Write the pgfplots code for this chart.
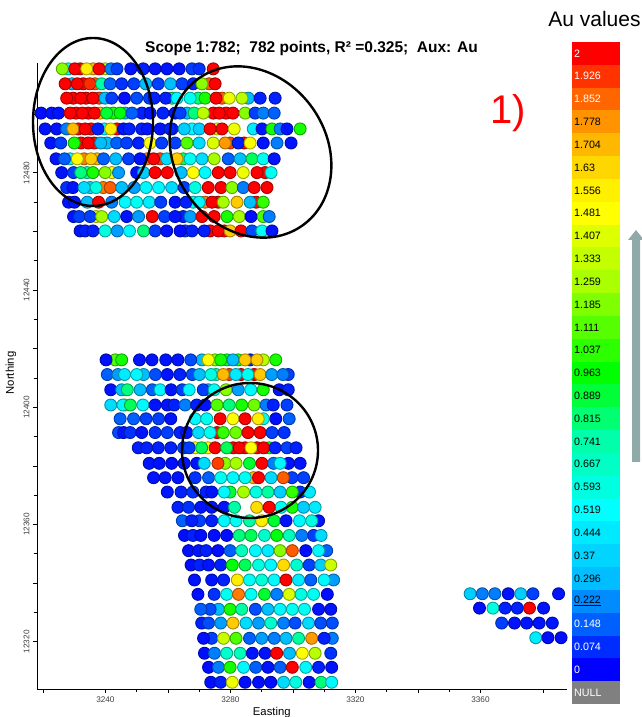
\documentclass[border=0pt]{standalone}
\usepackage{fontspec}
\setmainfont{Liberation Sans}
\usepackage{pgfplots}
\pgfplotsset{compat=1.18}
\definecolor{arrowgray}{RGB}{143,170,168}
\pgfplotsset{colormap={au}{rgb255(0)=(0,0,255) rgb255(222)=(0,140,255) rgb255(296)=(0,190,255) rgb255(519)=(0,255,255) rgb255(741)=(0,255,170) rgb255(963)=(0,255,0) rgb255(1259)=(170,255,0) rgb255(1500)=(255,255,0) rgb255(1704)=(255,184,0) rgb255(2000)=(255,0,0)}}
\newcommand\cell[7]{%
  \addplot[draw=none,fill={rgb,255:red,#3;green,#4;blue,#5}] coordinates {(0,#1)(1,#1)(1,#2)(0,#2)} -- cycle;
  \node[anchor=west,inner sep=0pt,text=#6,font=\fontsize{10.7}{12}\selectfont] at (axis cs:0.04,#1.5) {#7};
}
\begin{document}
\begin{tikzpicture}
\path[use as bounding box] (0pt,0pt) rectangle (641pt,717pt);
\begin{axis}[
  at={(37pt,28pt)},anchor=south west,
  width=530pt,height=626pt,scale only axis,
  xmin=3218.1,xmax=3387.7,ymin=12303.9,ymax=12517.5,
  axis lines=left,
  x axis line style={-},y axis line style={-},
  axis line style={line width=1pt,black},
  clip=false,
  scaled x ticks=false,scaled y ticks=false,
  xtick={3240,3280,3320,3360},
  ytick={12320,12360,12400,12440,12480},
  minor tick num=3,
  extra x ticks={3220,3260,3300,3340,3380},
  extra y ticks={12340,12380,12420,12460,12500},
  extra x tick labels={},extra y tick labels={},
  extra tick style={major tick length=4pt},
  major tick length=4pt,minor tick length=2.5pt,
  tick style={black,line width=0.8pt},
  tick align=outside,
  xticklabel style={font=\fontsize{8.2}{10}\selectfont,text=black!75,/pgf/number format/assume math mode=true,/pgf/number format/fixed,/pgf/number format/1000 sep={}},
  yticklabel style={font=\fontsize{8.2}{10}\selectfont,text=black!75,rotate=90,anchor=south,/pgf/number format/assume math mode=true,/pgf/number format/fixed,/pgf/number format/1000 sep={}},
  xlabel={Easting},ylabel={Northing},
  xlabel style={font=\fontsize{11.3}{13}\selectfont,at={(axis description cs:0.443,-0.037)},anchor=center},
  ylabel style={font=\fontsize{11.3}{13}\selectfont,at={(axis description cs:-0.049,0.505)},anchor=center},
  colormap name=au,point meta min=0,point meta max=2,
]
\addplot[scatter,only marks,mark=*,mark size=6pt,line width=0.9pt,
  scatter/use mapped color={draw=mapped color!65!black,fill=mapped color},
  point meta=explicit]
table[row sep=\\,header=false,x index=0,y index=1,meta index=2] {
3228.1 12515.5 .55\\3231.9 12515.5 2\\3236.1 12515.5 1.7\\3239.9 12515.5 1.3\\
3226.2 12515.5 1.2\\3230.2 12515.5 2\\3234.0 12515.5 1.55\\3238.0 12515.5 2\\3241.8 12515.5 .2\\3243.7 12515.5 .1\\3248.1 12515.5 .03\\3252.1 12515.5 .05\\3255.9 12515.5 .03\\3259.7 12515.5 .03\\3263.6 12515.5 .03\\3267.7 12515.5 .1\\3270.0 12515.5 .08\\3274.5 12515.5 2\\
3229.3 12510.4 .3\\3232.9 12510.4 2\\3236.7 12510.4 1.85\\3273.2 12510.4 1.85\\
3227.1 12510.4 2\\3231.0 12510.4 2\\3235.0 12510.4 1.93\\3238.8 12510.4 .75\\3241.5 12510.4 .15\\3245.2 12510.4 .08\\3249.1 12510.4 .1\\3252.9 12510.4 .3\\3256.9 12510.4 .1\\3260.8 12510.4 .3\\3264.5 12510.4 .1\\3268.1 12510.4 .05\\3270.9 12510.4 1.2\\3275.1 12510.4 2\\
3229.7 12505.5 2\\3233.8 12505.5 2\\3238.0 12505.5 1.9\\3261.3 12505.5 .9\\3269.7 12505.5 .8\\3277.3 12505.5 1.85\\3285.7 12505.5 .3\\
3227.6 12505.5 2\\3232.1 12505.5 2\\3236.0 12505.5 2\\3239.9 12505.5 .3\\3242.0 12505.5 .1\\3246.1 12505.5 .02\\3250.0 12505.5 .12\\3254.1 12505.5 .1\\3255.6 12505.5 .05\\3259.3 12505.5 .05\\3262.9 12505.5 .5\\3267.1 12505.5 .55\\3271.9 12505.5 1.0\\3275.4 12505.5 2\\3279.6 12505.5 1.45\\3283.7 12505.5 1.3\\3289.5 12505.5 .05\\3294.3 12505.5 .05\\
3230.6 12500.4 2\\3234.5 12500.4 2\\3238.3 12500.4 1.7\\3242.5 12500.4 1.0\\3246.3 12500.4 .3\\3251.7 12500.4 .05\\3266.1 12500.4 .3\\3274.5 12500.4 2\\3278.6 12500.4 2\\
3219.4 12500.4 .02\\3222.8 12500.4 .03\\3225.0 12500.4 .03\\3228.7 12500.4 2\\3232.6 12500.4 2\\3236.5 12500.4 2\\3240.4 12500.4 .9\\3244.7 12500.4 .95\\3248.5 12500.4 .15\\3254.3 12500.4 .03\\3258.4 12500.4 .05\\3262.3 12500.4 .03\\3263.9 12500.4 .1\\3268.4 12500.4 .8\\3271.3 12500.4 1.3\\3276.4 12500.4 2\\3280.8 12500.4 2\\3284.7 12500.4 1.2\\3287.9 12500.4 .1\\3290.5 12500.4 .2\\3294.0 12500.4 .15\\
3231.3 12495.0 2\\3235.4 12495.0 2\\3239.6 12495.0 .5\\3243.7 12495.0 2\\3261.3 12495.0 .05\\3267.7 12495.0 .5\\3275.7 12495.0 1.4\\
3220.7 12495.0 .03\\3224.4 12495.0 .03\\3227.6 12495.0 .2\\3229.6 12495.0 1.7\\3233.5 12495.0 2\\3237.6 12495.0 .05\\3241.7 12495.0 1.55\\3245.8 12495.0 .03\\3247.6 12495.0 .05\\3251.6 12495.0 .05\\3253.4 12495.0 .03\\3257.5 12495.0 .03\\3260.7 12495.0 .05\\3265.2 12495.0 .35\\3270.0 12495.0 .35\\3273.5 12495.0 2\\3277.3 12495.0 2\\3281.2 12495.0 1.45\\3287.3 12495.0 .45\\3290.1 12495.0 .03\\3293.3 12495.0 1.0\\3295.9 12495.0 .2\\3298.1 12495.0 .03\\3302.3 12495.0 1.0\\
3232.2 12490.2 2\\3236.4 12490.2 2\\3240.5 12490.2 .3\\3279.9 12490.2 1.9\\3284.4 12490.2 2\\
3222.5 12490.2 .03\\3225.7 12490.2 .1\\3230.0 12490.2 1.0\\3234.5 12490.2 2\\3238.5 12490.2 .3\\3243.6 12490.2 .15\\3246.8 12490.2 .1\\3250.6 12490.2 .05\\3254.3 12490.2 1.5\\3258.0 12490.2 .1\\3262.3 12490.2 .1\\3266.1 12490.2 1.1\\3270.0 12490.2 .4\\3274.5 12490.2 1.4\\3278.3 12490.2 1.75\\3282.5 12490.2 .05\\3286.3 12490.2 1.5\\3290.5 12490.2 .03\\3294.9 12490.2 .2\\3299.4 12490.2 .03\\
3228.7 12484.8 .5\\3233.2 12484.8 1.8\\3237.3 12484.8 1.7\\3253.3 12484.8 1.8\\3257.5 12484.8 1.9\\3264.9 12484.8 .85\\
3224.2 12484.8 .03\\3226.9 12484.8 .15\\3231.0 12484.8 1.5\\3235.4 12484.8 1.65\\3239.4 12484.8 .15\\3243.3 12484.8 .3\\3247.4 12484.8 .1\\3251.1 12484.8 .03\\3255.4 12484.8 2\\3259.6 12484.8 .4\\3262.9 12484.8 1.65\\3267.1 12484.8 .55\\3270.9 12484.8 .4\\3274.8 12484.8 1.25\\3279.3 12484.8 .15\\3283.1 12484.8 .3\\3286.9 12484.8 .85\\3290.5 12484.8 .55\\3294.0 12484.8 .03\\
3234.1 12480.1 .7\\3242.1 12480.1 1.5\\3291.1 12480.1 2\\
3226.0 12480.1 .03\\3229.8 12480.1 .1\\3232.1 12480.1 .8\\3236.0 12480.1 1.0\\3239.9 12480.1 1.2\\3244.2 12480.1 .25\\3250.0 12480.1 .03\\3252.2 12480.1 .35\\3255.9 12480.1 2\\3259.8 12480.1 2\\3264.2 12480.1 .3\\3268.1 12480.1 1.5\\3271.9 12480.1 .5\\3276.1 12480.1 2\\3279.9 12480.1 2\\3284.1 12480.1 1.45\\3288.5 12480.1 2\\3293.0 12480.1 .55\\
3235.1 12475.0 .4\\3239.3 12475.0 1.8\\
3227.6 12475.0 .08\\3229.6 12475.0 .03\\3233.2 12475.0 .4\\3237.0 12475.0 .6\\3241.5 12475.0 1.85\\3245.2 12475.0 .3\\3249.2 12475.0 .25\\3253.0 12475.0 .5\\3257.0 12475.0 .5\\3261.2 12475.0 .4\\3265.2 12475.0 .1\\3268.7 12475.0 .6\\3272.9 12475.0 2\\3277.0 12475.0 2\\3280.5 12475.0 1.2\\3284.1 12475.0 .2\\3287.6 12475.0 2\\3291.7 12475.0 2\\
3268.1 12470.0 .6\\3271.9 12470.0 1.8\\3276.1 12470.0 2\\3288.2 12470.0 2\\
3228.2 12470.0 .03\\3230.1 12470.0 .03\\3234.2 12470.0 .3\\3237.8 12470.0 2\\3242.0 12470.0 .2\\3246.3 12470.0 .5\\3250.0 12470.0 .55\\3254.0 12470.0 .45\\3257.7 12470.0 .1\\3262.3 12470.0 .03\\3265.8 12470.0 .05\\3270.0 12470.0 .5\\3274.1 12470.0 2\\3277.7 12470.0 1.25\\3282.1 12470.0 1.65\\3286.3 12470.0 .3\\3290.5 12470.0 1.05\\
3237.0 12465.1 1.4\\3264.9 12465.1 .05\\
3229.8 12465.1 .03\\3231.6 12465.1 .1\\3235.1 12465.1 .1\\3238.8 12465.1 1.25\\3242.8 12465.1 .4\\3246.8 12465.1 .03\\3250.6 12465.1 .25\\3255.0 12465.1 2\\3258.9 12465.1 .1\\3262.3 12465.1 .03\\3267.1 12465.1 .25\\3270.9 12465.1 2\\3274.8 12465.1 2\\3278.9 12465.1 1.0\\3282.8 12465.1 1.25\\3286.6 12465.1 .02\\3290.5 12465.1 1.1\\3292.4 12465.1 .2\\
3265.5 12460.2 .1\\3273.5 12460.2 2\\3278.0 12460.2 2\\
3231.9 12460.2 .03\\3233.5 12460.2 .05\\3236.0 12460.2 .05\\3239.9 12460.2 .6\\3243.8 12460.2 .25\\3247.7 12460.2 .5\\3252.2 12460.2 .8\\3255.9 12460.2 .1\\3259.6 12460.2 .03\\3263.9 12460.2 .02\\3267.7 12460.2 .05\\3271.6 12460.2 .05\\3276.1 12460.2 2\\3279.9 12460.2 1.65\\3283.4 12460.2 2\\3286.9 12460.2 .12\\3290.1 12460.2 .55\\3293.3 12460.2 .03\\
3243.1 12416.2 1.1\\3270.9 12416.2 .3\\3275.1 12416.2 1.2\\3278.9 12416.2 .9\\3282.5 12416.2 1.0\\3286.3 12416.2 .05\\3290.5 12416.2 1.3\\
3240.2 12416.2 .02\\3245.2 12416.2 1.0\\3250.9 12416.2 .03\\3254.9 12416.2 .03\\3259.3 12416.2 .03\\3263.2 12416.2 .03\\3267.3 12416.2 .12\\3272.9 12416.2 1.5\\3276.9 12416.2 1.0\\3280.8 12416.2 .3\\3284.7 12416.2 1.65\\3288.5 12416.2 1.65\\3294.5 12416.2 1.0\\
3275.4 12411.2 .7\\3279.6 12411.2 1.9\\3283.4 12411.2 2\\3287.6 12411.2 2\\3298.5 12411.2 .1\\
3240.6 12411.2 .15\\3244.0 12411.2 .25\\3246.1 12411.2 .45\\3252.2 12411.2 .3\\3250.0 12411.2 .5\\3256.0 12411.2 .12\\3259.8 12411.2 .03\\3263.8 12411.2 .05\\3267.8 12411.2 .12\\3270.1 12411.2 .3\\3273.8 12411.2 .6\\3277.7 12411.2 1.7\\3281.7 12411.2 .45\\3285.6 12411.2 .55\\3289.5 12411.2 1.65\\3293.2 12411.2 .25\\3296.8 12411.2 .2\\
3272.9 12406.0 .3\\
3241.7 12406.0 .03\\3245.2 12406.0 .3\\3247.0 12406.0 .8\\3251.1 12406.0 .3\\3255.0 12406.0 .15\\3257.5 12406.0 .5\\3261.0 12406.0 .03\\3264.6 12406.0 .1\\3266.8 12406.0 .5\\3271.3 12406.0 .1\\3274.8 12406.0 .55\\3278.6 12406.0 1.2\\3282.5 12406.0 .25\\3286.5 12406.0 .5\\3290.5 12406.0 1.0\\3295.6 12406.0 .03\\3298.5 12406.0 .05\\
3246.3 12400.8 1.6\\
3241.7 12400.8 .4\\3245.6 12400.8 .5\\3248.0 12400.8 .85\\3252.0 12400.8 .5\\3255.9 12400.8 .03\\3259.8 12400.8 .03\\3262.0 12400.8 .05\\3265.5 12400.8 .2\\3269.2 12400.8 .05\\3271.9 12400.8 .03\\3275.7 12400.8 1.1\\3279.6 12400.8 .8\\3283.6 12400.8 1.0\\3287.6 12400.8 1.15\\3291.4 12400.8 .2\\3293.7 12400.8 .05\\3298.1 12400.8 .1\\
3244.7 12396.1 .15\\3249.0 12396.1 .15\\3253.0 12396.1 .1\\3257.0 12396.1 .1\\3260.9 12396.1 .03\\3268.7 12396.1 .5\\3272.4 12396.1 .55\\3276.7 12396.1 2\\3280.8 12396.1 1.5\\3284.7 12396.1 2\\3290.5 12396.1 .55\\3288.9 12396.1 1.55\\3294.5 12396.1 .02\\3298.8 12396.1 .15\\
3275.7 12391.4 2\\
3244.2 12391.4 .12\\3245.8 12391.4 .03\\3247.9 12391.4 .08\\3251.6 12391.4 .03\\3255.9 12391.4 .08\\3259.8 12391.4 .1\\3263.9 12391.4 .05\\3266.0 12391.4 .03\\3269.8 12391.4 .4\\3273.5 12391.4 .55\\3277.7 12391.4 1.05\\3281.7 12391.4 1.15\\3285.6 12391.4 2\\3289.5 12391.4 2\\3293.3 12391.4 .1\\3297.2 12391.4 .08\\
3268.7 12386.2 1.5\\3272.8 12386.2 1.5\\3280.9 12386.2 2\\3284.7 12386.2 2\\3288.5 12386.2 2\\3292.4 12386.2 .9\\
3250.5 12386.2 .05\\3253.2 12386.2 .05\\3256.9 12386.2 .05\\3260.9 12386.2 .05\\3265.0 12386.2 .1\\3266.8 12386.2 .1\\3270.8 12386.2 .85\\3275.1 12386.2 2\\3278.8 12386.2 .85\\3282.8 12386.2 2\\3286.6 12386.2 1.5\\3290.6 12386.2 2\\3294.3 12386.2 .05\\3298.1 12386.2 .1\\3301.0 12386.2 .05\\
3278.3 12380.9 1.2\\
3254.0 12380.9 .03\\3257.2 12380.9 .03\\3261.2 12380.9 .02\\3265.2 12380.9 .03\\3269.2 12380.9 .03\\3271.6 12380.9 .4\\3276.0 12380.9 1.9\\3281.8 12380.9 1.25\\3286.1 12380.9 .9\\3290.1 12380.9 2\\3293.8 12380.9 .2\\3298.6 12380.9 .03\\3295.9 12380.9 .5\\3302.3 12380.9 .03\\
3287.4 12376.0 1.7\\3299.7 12376.0 .1\\
3255.4 12376.0 .03\\3259.1 12376.0 .03\\3263.2 12376.0 .03\\3268.7 12376.0 .08\\3273.0 12376.0 .15\\3276.9 12376.0 .55\\3280.8 12376.0 .5\\3284.7 12376.0 .55\\3289.0 12376.0 2\\3293.0 12376.0 .4\\3296.9 12376.0 1.85\\3303.4 12376.0 .1\\
3259.8 12371.1 .03\\3264.2 12371.1 .05\\3268.0 12371.1 .08\\3272.2 12371.1 .05\\3274.0 12371.1 .03\\3279.9 12371.1 .9\\3278.0 12371.1 .5\\3284.2 12371.1 1.25\\3288.2 12371.1 .6\\3292.0 12371.1 .75\\3295.9 12371.1 .35\\3302.3 12371.1 .08\\3299.8 12371.1 1.05\\3305.3 12371.1 .45\\
3263.2 12365.9 .05\\3266.6 12365.9 .08\\3270.5 12365.9 .03\\3274.0 12365.9 .03\\3278.0 12365.9 .03\\3281.3 12365.9 .75\\3288.4 12365.9 1.6\\3299.8 12365.9 1.0\\3296.2 12365.9 .55\\3292.4 12365.9 2\\3303.4 12365.9 .35\\3307.1 12365.9 .45\\
3264.6 12361.3 .15\\3270.1 12361.3 .1\\3267.6 12361.3 .05\\3274.0 12361.3 .05\\3278.0 12361.3 .5\\3281.8 12361.3 .55\\3286.1 12361.3 .75\\3290.0 12361.3 1.55\\3294.0 12361.3 .9\\3297.8 12361.3 .03\\3302.1 12361.3 .5\\3308.2 12361.3 .03\\3306.0 12361.3 .6\\
3265.3 12356.3 .02\\3268.0 12356.3 .05\\3270.5 12356.3 .02\\3274.8 12356.3 .02\\3278.8 12356.3 .02\\3282.8 12356.3 .8\\3286.6 12356.3 .85\\3290.9 12356.3 .65\\3294.8 12356.3 .95\\3298.8 12356.3 .7\\3302.8 12356.3 .2\\3306.6 12356.3 .1\\3309.0 12356.3 .4\\
3266.6 12351.1 .02\\3269.8 12351.1 .03\\3272.2 12351.1 .05\\3276.0 12351.1 .02\\3279.9 12351.1 .15\\3283.6 12351.1 .7\\3288.0 12351.1 .5\\3292.0 12351.1 .45\\3295.9 12351.1 1.2\\3299.8 12351.1 1.85\\3304.1 12351.1 .02\\3310.8 12351.1 .15\\3308.2 12351.1 .5\\
3267.4 12346.2 .02\\3270.1 12346.2 .05\\3273.0 12346.2 .03\\3276.9 12346.2 .05\\3280.6 12346.2 .95\\3284.7 12346.2 .85\\3289.0 12346.2 .6\\3292.9 12346.2 .5\\3297.0 12346.2 1.6\\3301.2 12346.2 .65\\3305.2 12346.2 .1\\3308.9 12346.2 .35\\3312.1 12346.2 1.35\\
3268.5 12341.1 .03\\3274.0 12341.1 .03\\3277.8 12341.1 .05\\3282.2 12341.1 1.55\\3286.1 12341.1 .55\\3290.0 12341.1 .62\\3294.0 12341.1 .5\\3297.8 12341.1 2\\3301.8 12341.1 .45\\3305.7 12341.1 .15\\3313.0 12341.1 .25\\3310.0 12341.1 .5\\
3269.6 12336.2 .02\\3274.8 12336.2 .08\\3278.8 12336.2 .55\\3282.6 12336.2 1.8\\3286.6 12336.2 .55\\3290.9 12336.2 .9\\3294.8 12336.2 .2\\3298.8 12336.2 1.4\\3302.6 12336.2 .6\\3306.6 12336.2 .55\\3311.0 12336.2 .02\\
3276.2 12331.1 .3\\3273.5 12331.1 .12\\3270.5 12331.1 .15\\3279.9 12331.1 1.0\\3283.6 12331.1 .75\\3288.0 12331.1 .12\\3292.0 12331.1 .3\\3295.9 12331.1 .5\\3299.8 12331.1 .55\\3303.7 12331.1 .55\\3308.2 12331.1 .03\\3312.1 12331.1 .03\\
3270.8 12326.4 .05\\3273.0 12326.4 .12\\3276.9 12326.4 .25\\3280.8 12326.4 1.65\\3285.0 12326.4 .4\\3289.0 12326.4 .25\\3292.9 12326.4 .65\\3297.0 12326.4 .2\\3300.7 12326.4 .12\\3305.0 12326.4 .4\\3308.9 12326.4 .12\\3312.6 12326.4 .12\\
3274.0 12321.2 .1\\3271.4 12321.2 .02\\3277.8 12321.2 1.35\\3281.8 12321.2 1.1\\3286.1 12321.2 .15\\3290.0 12321.2 .25\\3294.0 12321.2 .2\\3297.8 12321.2 .3\\3301.8 12321.2 .75\\3306.0 12321.2 1.75\\3312.6 12321.2 .2\\3310.0 12321.2 .05\\
3271.7 12316.1 .02\\3274.9 12316.1 .2\\3278.8 12316.1 .65\\3283.1 12316.1 .7\\3287.0 12316.1 .03\\3291.1 12316.1 .03\\3294.8 12316.1 2\\3298.9 12316.1 .3\\3303.0 12316.1 1.5\\3307.1 12316.1 1.3\\3312.1 12316.1 .08\\
3273.0 12311.3 .02\\3276.2 12311.3 .2\\3279.9 12311.3 1.0\\3284.2 12311.3 .5\\3288.1 12311.3 .15\\3292.0 12311.3 .03\\3295.9 12311.3 .15\\3299.8 12311.3 2\\3304.1 12311.3 .5\\3308.2 12311.3 .05\\3312.4 12311.3 .03\\
3273.7 12306.2 .02\\3276.9 12306.2 .05\\3280.6 12306.2 1.45\\3284.7 12306.2 .02\\3289.0 12306.2 .02\\3292.9 12306.2 .02\\3297.0 12306.2 .4\\3300.9 12306.2 .6\\3305.2 12306.2 .03\\3309.0 12306.2 .8\\3312.4 12306.2 .5\\
3356.7 12336.4 .35\\3360.6 12336.4 .2\\3364.6 12336.4 .2\\3368.9 12336.4 .03\\3372.9 12336.4 .35\\3376.8 12336.4 .1\\3385.0 12336.4 .03\\
3359.7 12331.5 .02\\3364.0 12331.5 .6\\3367.9 12331.5 .05\\3371.8 12331.5 .05\\3380.2 12331.5 .03\\3375.7 12331.5 2\\
3366.8 12326.4 .1\\3370.9 12326.4 .03\\3374.8 12326.4 .03\\3378.8 12326.4 .03\\3383.0 12326.4 .03\\
3377.7 12321.4 .45\\3381.6 12321.4 .02\\3385.8 12321.4 .02\\
};
\end{axis}
\begin{axis}[
  at={(572pt,13pt)},anchor=south west,
  width=48pt,height=662pt,scale only axis,
  xmin=0,xmax=1,ymin=0,ymax=29,hide axis,clip=false,
]
\cell{0}{1}{128}{128}{128}{white}{NULL}
\cell{1}{2}{0}{0}{255}{white}{0}
\cell{2}{3}{0}{45}{255}{white}{0.074}
\cell{3}{4}{0}{95}{255}{white}{0.148}
\cell{4}{5}{0}{140}{255}{black}{\underline{0.222}}
\cell{5}{6}{0}{190}{255}{black}{0.296}
\cell{6}{7}{0}{212}{255}{black}{0.37}
\cell{7}{8}{0}{234}{255}{black}{0.444}
\cell{8}{9}{0}{255}{255}{black}{0.519}
\cell{9}{10}{0}{255}{225}{black}{0.593}
\cell{10}{11}{0}{255}{197}{black}{0.667}
\cell{11}{12}{0}{255}{170}{black}{0.741}
\cell{12}{13}{0}{255}{113}{black}{0.815}
\cell{13}{14}{0}{255}{57}{black}{0.889}
\cell{14}{15}{0}{255}{0}{black}{0.963}
\cell{15}{16}{43}{255}{0}{black}{1.037}
\cell{16}{17}{85}{255}{0}{black}{1.111}
\cell{17}{18}{128}{255}{0}{black}{1.185}
\cell{18}{19}{170}{255}{0}{black}{1.259}
\cell{19}{20}{196}{255}{0}{black}{1.333}
\cell{20}{21}{222}{255}{0}{black}{1.407}
\cell{21}{22}{255}{255}{0}{black}{1.481}
\cell{22}{23}{255}{240}{0}{black}{1.556}
\cell{23}{24}{255}{215}{0}{black}{1.63}
\cell{24}{25}{255}{184}{0}{black}{1.704}
\cell{25}{26}{255}{148}{0}{black}{1.778}
\cell{26}{27}{255}{102}{0}{white}{1.852}
\cell{27}{28}{255}{51}{0}{white}{1.926}
\cell{28}{29}{255}{0}{0}{white}{2}
\end{axis}
\node[font=\fontsize{15.5}{18}\selectfont\bfseries] at (311.5pt,668pt) {Scope 1:782;\ \ 782 points, R² =0.325;\ \ Aux: Au};
\node[font=\fontsize{21}{24}\selectfont,anchor=center] at (594.5pt,698pt) {Au values};
\node[font=\fontsize{40}{44}\selectfont,text=red] at (508pt,604pt) {1)};
\draw[line width=2.4pt] (93pt,595pt) ellipse [x radius=60pt,y radius=84pt];
\draw[line width=2.4pt] (250.5pt,565pt) ellipse [x radius=90pt,y radius=76pt,rotate=-55];
\draw[line width=2.4pt] (250pt,266.5pt) ellipse [x radius=68pt,y radius=67.5pt];
\fill[arrowgray] (632pt,255pt) -- (632pt,477pt) -- (628pt,477pt) -- (636pt,487pt) -- (644pt,477pt) -- (640pt,477pt) -- (640pt,255pt) -- cycle;
\end{tikzpicture}
\end{document}
